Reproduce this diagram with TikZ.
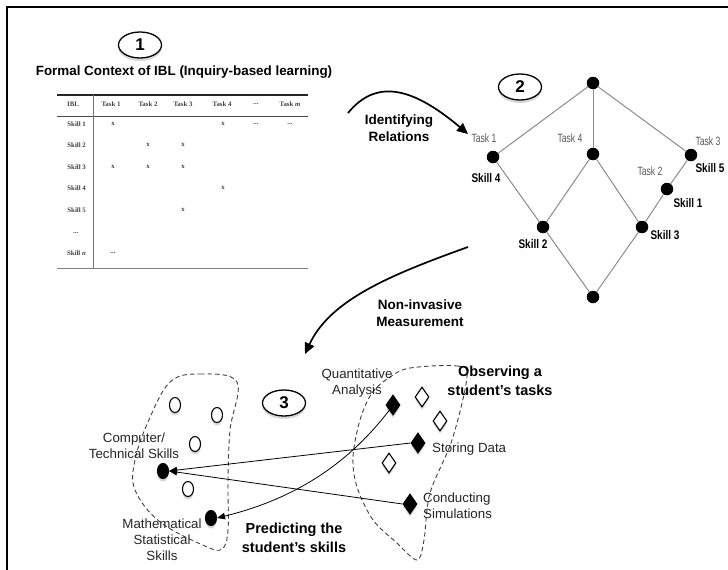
\documentclass[tikz,border=0pt]{standalone}
\usepackage{fontspec}
\setmainfont{Liberation Sans}
\newfontfamily\narrowfont[FakeStretch=0.72]{Liberation Sans}
\newfontfamily\narrowbold[FakeStretch=0.8]{Liberation Sans Bold}
\newfontfamily\tabfont{Liberation Serif}
\usetikzlibrary{arrows.meta,shapes.geometric,shadows}
\newcommand\tabdots{...}
\begin{document}
\begin{tikzpicture}[x=1pt,y=-1pt,
  tab/.style={font=\tabfont\bfseries\fontsize{6.8}{7}\selectfont, text=black!75, inner sep=0},
  tabr/.style={tab, anchor=east},
  shd/.style={drop shadow={shadow xshift=0pt, shadow yshift=-3pt, opacity=0.3}},
  num/.style={ellipse, draw, line width=1.3pt, fill=white, minimum width=43, minimum height=26, inner sep=0,
    font=\bfseries\fontsize{17}{17}\selectfont, shd},
  lat/.style={circle, fill=black, minimum size=12.5, inner sep=0},
  latedge/.style={draw=black!45, line width=1pt},
  tasklbl/.style={font=\narrowfont\fontsize{12}{12}\selectfont, text=black!65, inner sep=0},
  skilllbl/.style={font=\narrowbold\fontsize{12.5}{13}\selectfont, inner sep=0},
  bigarrow/.style={line width=1.7pt, -{Triangle[length=11pt,width=10pt]}},
  smallarrow/.style={line width=0.8pt, -{Triangle[length=8pt,width=6.5pt]}},
  lbl/.style={font=\fontsize{13.3}{16}\selectfont, align=center, text=black!85, inner sep=0},
  blbl/.style={font=\bfseries\fontsize{13.5}{17.5}\selectfont, align=center, inner sep=0},
  bblbl/.style={font=\bfseries\fontsize{14.5}{18.5}\selectfont, align=center, inner sep=0},
  oval/.style={ellipse, draw, line width=1.1pt, fill=white, minimum width=11, minimum height=15, inner sep=0, shd},
  bov/.style={oval, fill=black},
  dmd/.style={diamond, draw, line width=1.1pt, fill=white, minimum width=14, minimum height=20, inner sep=0, shd},
  bdmd/.style={dmd, fill=black},
  blob/.style={dash pattern=on 4.5pt off 3pt, line width=0.9pt, black!75}
]
\useasboundingbox (0,0) rectangle (728,570);
\fill[white] (0,0) rectangle (728,570);
% frame
\draw[line width=2pt] (6.5,570) -- (6.5,6.5) -- (728,6.5);

% ---------- part 1 ----------
\node[num] (n1) at (140,45) {1};
\node[font=\bfseries\fontsize{13.4}{15}\selectfont, inner sep=0] (title) at (184,72) {Formal Context of IBL (Inquiry-based learning)};

\draw[line width=1.1pt, black!85] (57,95) -- (308,95);
\draw[line width=0.9pt, black!70] (57,116) -- (308,116);
\draw[line width=0.8pt, black!50] (57,268) -- (308,268);
\draw[line width=0.8pt, black!55] (93,95) -- (93,268);

\node[tab] (hibl) at (73,104) {IBL};
\foreach \x/\t/\n in {111/Task 1/a,148/Task 2/b,183/Task 3/c,222/Task 4/d,256/\tabdots/e,290/Task \textit{m}/f}
  \node[tab] (h\n) at (\x,104) {\t};
\foreach \y/\t/\n in {124/Skill 1/1,145/Skill 2/2,167/Skill 3/3,188/Skill 4/4,210/Skill 5/5,253/Skill \textit{n}/n}
  \node[tabr] (r\n) at (86,\y) {\t};
\node[tab] (rdots) at (76,233) {\tabdots};
\foreach \x/\y/\t/\n in {113/124/x/a1,223/124/x/a2,256/124/\tabdots/a3,290/124/\tabdots/a4,
  148/145/x/b1,183/145/x/b2,
  113/167/x/c1,148/167/x/c2,183/167/x/c3,
  223/188/x/d1,183/210/x/e1,113/253/\tabdots/f1}
  \node[tab] (m\n) at (\x,\y) {\t};

% ---------- arrow 1 ----------
\coordinate (ir0) at (348,113);
\coordinate (ir1) at (468,134);
\draw[bigarrow] (ir0) .. controls (375,80) and (410,85) .. (ir1);
\node[blbl] (irl) at (399,128) {Identifying\\Relations};

% ---------- part 2 ----------
\node[num, drop shadow={opacity=0}] (n2) at (520,87) {2};
\draw[latedge] (593,83) -- (493,157);
\node[lat] (top) at (593,83) {};
\node[lat] (t1) at (493,157) {};
\node[lat] (t4) at (593,154) {};
\node[lat] (t3) at (691,155) {};
\node[lat] (s1) at (667,189) {};
\node[lat] (s2) at (543,227) {};
\node[lat] (s3) at (642,227) {};
\node[lat] (bot) at (593,297) {};
\draw[latedge] (top) -- (t4);
\draw[latedge] (top) -- (t3);
\draw[latedge] (t1) -- (s2);
\draw[latedge] (t4) -- (s2);
\draw[latedge] (t4) -- (s3);
\draw[latedge] (t3) -- (s1);
\draw[latedge] (s1) -- (s3);
\draw[latedge] (s2) -- (bot);
\draw[latedge] (s3) -- (bot);
\node[tasklbl] (lt1) at (484,138) {Task 1};
\node[tasklbl] (lt4) at (570,138) {Task 4};
\node[tasklbl] (lt3) at (708,141) {Task 3};
\node[tasklbl] (lt2) at (650,171) {Task 2};
\node[skilllbl] (ls4) at (486,178) {Skill 4};
\node[skilllbl] (ls5) at (710,168) {Skill 5};
\node[skilllbl] (ls1) at (688,203) {Skill 1};
\node[skilllbl] (ls2) at (533,244) {Skill 2};
\node[skilllbl] (ls3) at (665,235) {Skill 3};

% ---------- arrow 2 ----------
\coordinate (nm0) at (468,247);
\coordinate (nm1) at (305,354);
\draw[bigarrow] (nm0) .. controls (390,275) and (330,300) .. (nm1);
\node[blbl] (nml) at (420,313) {Non-invasive\\Measurement};

% ---------- part 3 ----------
\node[num] (n3) at (284,403) {3};

\draw[blob] plot[smooth cycle, tension=0.6] coordinates {
  (170,382) (200,374) (237,382) (230,430) (228,480) (228,530) (222,549) (205,546) (160,522) (135,490) (135,460) (148,422)};
\draw[blob] plot[smooth cycle, tension=0.55] coordinates {
  (410,368) (457,366) (467,377) (452,440) (430,493) (424,540) (417,560) (397,543) (373,520) (357,487) (353,457) (360,420) (372,393) (390,377)};

\node[oval] (o1) at (175,405) {};
\node[oval] (o2) at (217,415) {};
\node[oval] (o3) at (195,444) {};
\node[oval] (o4) at (188,489) {};
\node[bov] (cs) at (163,471) {};
\node[bov] (ms) at (211,518) {};

\node[dmd] (w1) at (422,397) {};
\node[dmd] (w2) at (440,421) {};
\node[dmd] (w3) at (389,463) {};
\node[bdmd] (qa) at (393,405) {};
\node[bdmd] (sd) at (418,443) {};
\node[bdmd] (cd) at (410,504) {};

\node[lbl] (lcs) at (134,446) {Computer/\\Technical Skills};
\node[lbl] (lms) at (162,540) {Mathematical\\Statistical\\Skills};
\node[lbl] (lqa) at (357,383) {Quantitative\\Analysis};
\node[lbl, anchor=west] (lsd) at (432,449) {Storing Data};
\node[lbl, anchor=west, align=left] (lcd) at (423,506) {Conducting\\Simulations};
\node[bblbl] (lpr) at (294,538) {Predicting the\\student's skills};
\node[bblbl] (lob) at (500,381) {Observing a\\student's tasks};

\draw[smallarrow] (sd.west) -- (cs.east);
\draw[smallarrow] (cd.west) -- (cs.east);
\draw[smallarrow] (qa.south west) .. controls (345,468) and (290,500) .. (ms.east);
\end{tikzpicture}
\end{document}
